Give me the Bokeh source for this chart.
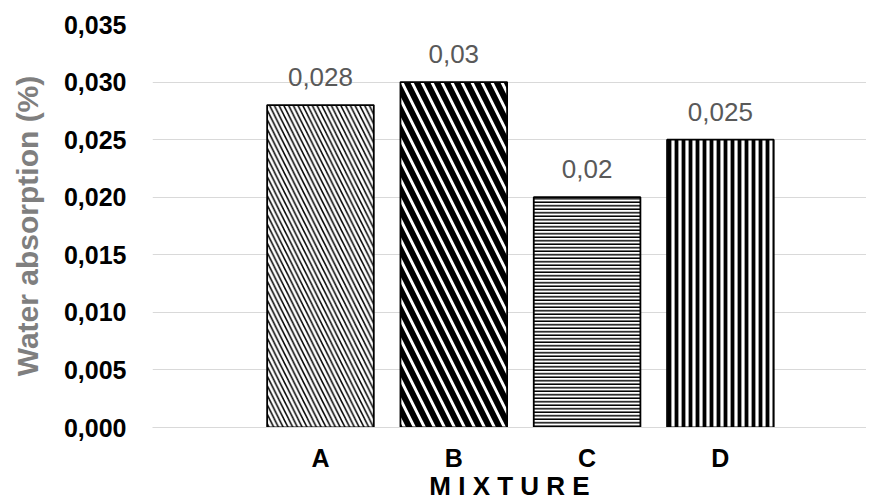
from bokeh.plotting import figure
from bokeh.models import ColumnDataSource, FixedTicker, CustomJSTickFormatter, Range1d
from bokeh.core.properties import value
from bokeh.embed import file_html
from bokeh.resources import INLINE

categories = ["A", "B", "C", "D"]
absorption = [0.028, 0.030, 0.020, 0.025]
value_labels = [str(v).replace(".", ",") for v in absorption]
y_ticks = [0.0, 0.005, 0.010, 0.015, 0.020, 0.025, 0.030, 0.035]
y_title = "Water absorption (%)"
x_title = "M I X T U R E"

hatches = ["\\", "\\", "-", "|"]
hatch_scales = [9.5, 20, 3.5, 7]
hatch_weights = [1.5, 6, 1.5, 3.8]

FONT = "Liberation Sans"
xpos = list(range(1, len(categories) + 1))
X0, X1 = -0.26, 5.096

src = ColumnDataSource(dict(
    x=xpos, top=absorption, lab=value_labels,
    hp=hatches, hs=hatch_scales, hw=hatch_weights,
))

p = figure(width=866, height=503, output_backend="svg", toolbar_location=None,
           x_range=Range1d(X0, X1), y_range=Range1d(0, 0.035),
           min_border_left=152, min_border_right=0, min_border_top=24, min_border_bottom=75)
p.outline_line_color = None
p.background_fill_color = "white"

p.vbar(x="x", top="top", width=0.8, source=src, fill_color="white",
       line_color="black", line_width=1.8,
       hatch_pattern="hp", hatch_scale="hs", hatch_weight="hw", hatch_color="black")

p.text(x="x", y="top", text="lab", source=src, text_align="center",
       text_baseline="alphabetic", y_offset=-28, text_color="#595959",
       text_font=value(FONT), text_font_size="26px")

# y axis
p.yaxis.ticker = FixedTicker(ticks=y_ticks)
p.yaxis.formatter = CustomJSTickFormatter(code="return tick.toFixed(3).replace('.', ',');")
p.yaxis.axis_line_color = None
p.yaxis.major_tick_line_color = None
p.yaxis.minor_tick_line_color = None
p.yaxis.major_tick_out = 0
p.yaxis.major_tick_in = 0
p.yaxis.minor_tick_out = 0
p.yaxis.major_label_standoff = 26
p.yaxis.major_label_text_font = FONT
p.yaxis.major_label_text_font_style = "bold"
p.yaxis.major_label_text_font_size = "25px"
p.yaxis.major_label_text_color = "black"
p.yaxis.axis_label = y_title
p.yaxis.axis_label_text_font = FONT
p.yaxis.axis_label_text_font_style = "bold"
p.yaxis.axis_label_text_font_size = "30px"
p.yaxis.axis_label_text_color = "#7f7f7f"
p.yaxis.axis_label_standoff = 17

# x axis
p.xaxis.ticker = FixedTicker(ticks=xpos)
p.xaxis.major_label_overrides = {x: c for x, c in zip(xpos, categories)}
p.xaxis.axis_line_color = "#d9d9d9"
p.xaxis.major_tick_line_color = None
p.xaxis.minor_tick_line_color = None
p.xaxis.major_tick_out = 0
p.xaxis.major_tick_in = 0
p.xaxis.minor_tick_out = 0
p.xaxis.major_label_standoff = 16
p.xaxis.major_label_text_font = FONT
p.xaxis.major_label_text_font_style = "bold"
p.xaxis.major_label_text_font_size = "25px"
p.xaxis.major_label_text_color = "black"
p.xaxis.axis_label = x_title
p.xaxis.axis_label_text_font = FONT
p.xaxis.axis_label_text_font_style = "bold"
p.xaxis.axis_label_text_font_size = "26px"
p.xaxis.axis_label_text_color = "black"
p.xaxis.axis_label_standoff = -4

p.xgrid.grid_line_color = None
p.ygrid.grid_line_color = "#d9d9d9"
p.ygrid.grid_line_width = 1

open("out.html", "w").write(file_html(p, INLINE))
